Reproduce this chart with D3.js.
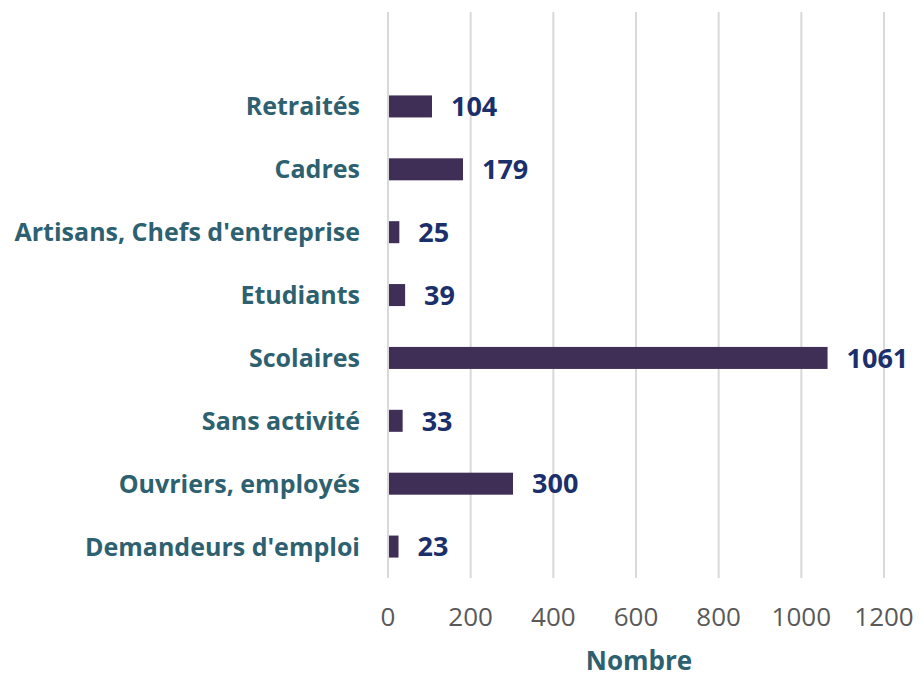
<!DOCTYPE html>
<html>
<head>
<meta charset="utf-8">
<script src="https://cdn.jsdelivr.net/npm/d3@7"></script>
<style>
  body { margin: 0; background: #fff; }
  svg { display: block; }
</style>
</head>
<body>
<svg id="chart"></svg>
<script>
const categories = ["Retraités", "Cadres", "Artisans, Chefs d'entreprise", "Etudiants",
  "Scolaires", "Sans activité", "Ouvriers, employés", "Demandeurs d'emploi"];
const values = [104, 179, 25, 39, 1061, 33, 300, 23];
const xTicks = [0, 200, 400, 600, 800, 1000, 1200];

const W = 922, H = 679;
const font = "'Open Sans', 'Noto Sans', sans-serif";

const svg = d3.select("#chart").attr("width", W).attr("height", H);

const x = d3.scaleLinear().domain([0, 1200]).range([388, 884]);
// plot area top at 12, one empty slot above the first category
const y = d3.scaleBand().domain(categories).range([75, 578]).paddingInner(0.65).paddingOuter(0.325);

// Gridlines
svg.append("g")
  .selectAll("line")
  .data(xTicks)
  .join("line")
  .attr("x1", d => x(d)).attr("x2", d => x(d))
  .attr("y1", 12).attr("y2", 578)
  .attr("stroke", "#d9d9d9")
  .attr("stroke-width", 2);

// Tick labels
svg.append("g")
  .selectAll("text")
  .data(xTicks)
  .join("text")
  .attr("x", d => x(d))
  .attr("y", 626)
  .attr("text-anchor", "middle")
  .style("font-family", font)
  .style("font-size", "26px")
  .style("fill", "#595959")
  .text(d => d);

// Bars
svg.append("g")
  .selectAll("rect")
  .data(values)
  .join("rect")
  .attr("x", x(0) + 1)
  .attr("y", (d, i) => y(categories[i]))
  .attr("width", d => x(d) - x(0))
  .attr("height", y.bandwidth())
  .attr("fill", "#3f2e55");

// Value labels
svg.append("g")
  .selectAll("text")
  .data(values)
  .join("text")
  .attr("x", d => x(d) + 20)
  .attr("y", (d, i) => y(categories[i]) + y.bandwidth() / 2)
  .attr("dy", "0.36em")
  .style("font-family", font)
  .style("font-size", "27px")
  .style("font-weight", "bold")
  .style("fill", "#1b2f6b")
  .text(d => d);

// Category labels
svg.append("g")
  .selectAll("text")
  .data(categories)
  .join("text")
  .attr("x", 360)
  .attr("y", d => y(d) + y.bandwidth() / 2)
  .attr("dy", "0.36em")
  .attr("text-anchor", "end")
  .style("font-family", font)
  .style("font-size", "25px")
  .style("font-weight", "bold")
  .style("fill", "#2e6170")
  .text(d => d);

// Axis title
svg.append("text")
  .attr("x", 639)
  .attr("y", 670)
  .attr("text-anchor", "middle")
  .style("font-family", font)
  .style("font-size", "26px")
  .style("font-weight", "bold")
  .style("fill", "#2e6170")
  .text("Nombre");
</script>
</body>
</html>
